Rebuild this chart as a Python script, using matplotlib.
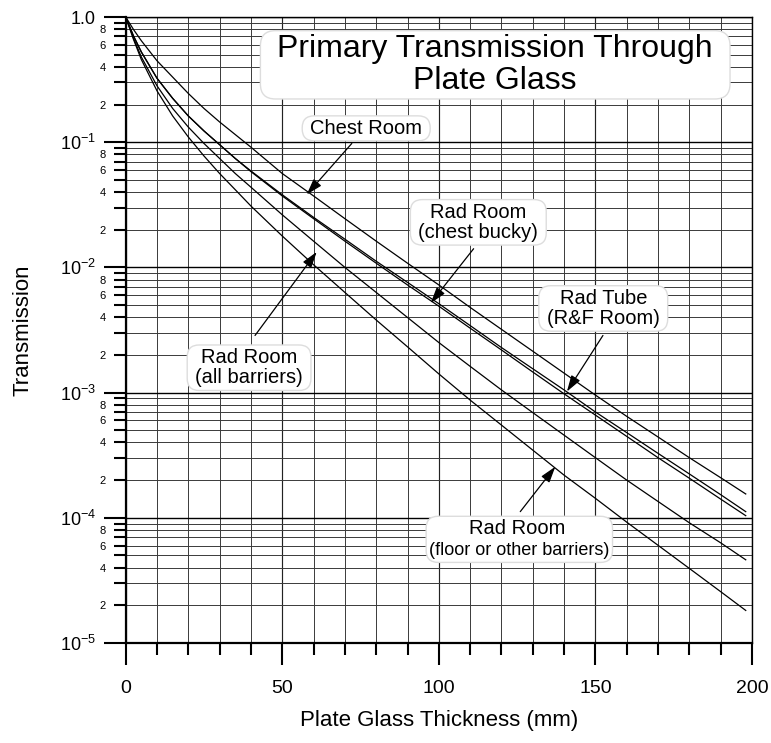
import numpy as np
import matplotlib
matplotlib.use('Agg')
import matplotlib.pyplot as plt
from matplotlib import ticker
from matplotlib.patches import FancyBboxPatch
from matplotlib.transforms import Bbox, IdentityTransform

plt.rcParams['font.family'] = ['Liberation Sans', 'DejaVu Sans']
plt.rcParams['mathtext.fontset'] = 'custom'
plt.rcParams['mathtext.rm'] = 'Liberation Sans'
plt.rcParams['mathtext.it'] = 'Liberation Sans:italic'

## thickness of plate glass (mm) at which the curves were read
thickness = [0, 2.5, 5, 10, 15, 20, 25, 30, 35, 40, 50, 60, 70, 80, 90, 100,
             110, 120, 130, 140, 150, 160, 170, 180, 190, 198]

## transmission
chest_room = [1.0, 0.794, 0.646, 0.447, 0.331, 0.245, 0.186, 0.145, 0.115, 0.0912,
              0.0562, 0.0372, 0.0245, 0.0162, 0.0108, 7.24e-3, 4.79e-3, 3.20e-3,
              2.14e-3, 1.43e-3, 9.55e-4, 6.46e-4, 4.42e-4, 3.02e-4, 2.09e-4, 1.55e-4]
rad_tube = [1.0, 0.700, 0.525, 0.324, 0.224, 0.162, 0.123, 0.0955, 0.0741, 0.0589,
            0.0380, 0.0251, 0.0168, 0.0112, 7.59e-3, 5.13e-3, 3.43e-3, 2.29e-3,
            1.55e-3, 1.05e-3, 7.00e-4, 4.79e-4, 3.27e-4, 2.24e-4, 1.53e-4, 1.12e-4]
chest_bucky = [1.0, 0.708, 0.525, 0.324, 0.224, 0.162, 0.123, 0.0955, 0.0741, 0.0582,
               0.0372, 0.0245, 0.0162, 0.0108, 7.24e-3, 4.90e-3, 3.27e-3, 2.19e-3,
               1.46e-3, 9.77e-4, 6.61e-4, 4.47e-4, 3.02e-4, 2.07e-4, 1.41e-4, 1.04e-4]
all_barriers = [1.0, 0.676, 0.479, 0.282, 0.186, 0.132, 0.0977, 0.0741, 0.0562, 0.0437,
                0.0263, 0.0162, 0.0100, 6.31e-3, 3.98e-3, 2.51e-3, 1.62e-3, 1.05e-3,
                6.92e-4, 4.57e-4, 3.02e-4, 2.00e-4, 1.35e-4, 9.12e-5, 6.31e-5, 4.62e-5]
floor_other = [1.0, 0.661, 0.457, 0.257, 0.162, 0.110, 0.0776, 0.0562, 0.0417, 0.0309,
               0.0178, 0.0105, 6.31e-3, 3.80e-3, 2.32e-3, 1.41e-3, 8.71e-4, 5.50e-4,
               3.47e-4, 2.19e-4, 1.43e-4, 9.23e-5, 6.03e-5, 3.94e-5, 2.57e-5, 1.82e-5]

curves = [chest_room, rad_tube, chest_bucky, all_barriers, floor_other]

## labels: text, text centre, arrow start, arrow tip (data coords)
labels = [
    ("Chest Room", (76.8, 0.129), (72.2, 0.0977), (57.8, 0.0382)),
    ("Rad Room\n(chest bucky)", (112.6, 0.0229), (111.1, 0.0141), (97.4, 5.18e-3)),
    ("Rad Tube\n(R&F Room)", (152.5, 4.70e-3), (152.4, 2.86e-3), (140.9, 1.02e-3)),
    ("Rad Room\n(all barriers)", (39.4, 1.58e-3), (41.3, 2.86e-3), (61.0, 0.0133)),
]
floor_line1 = ("Rad Room", (125.0, 8.17e-5))
floor_line2 = ("(floor or other barriers)", (125.7, 5.44e-5))
floor_arrow = ((126.0, 1.12e-4), (137.2, 2.56e-4))

title = "Primary Transmission Through\nPlate Glass"
title_pos = (118.0, 0.415)


fig = plt.figure(figsize=(7.71, 7.43), dpi=100)
ax = fig.add_axes([125.7/771, 1-643/743, 626.3/771, 626/743])
ax.set_yscale('log')
ax.set_xlim(0, 200)
ax.set_ylim(1e-5, 1.0)

for c in curves:
    ax.plot(thickness, c, color='k', lw=0.9, zorder=2)

# ticks and grid
ax.xaxis.set_major_locator(ticker.MultipleLocator(50))
ax.xaxis.set_minor_locator(ticker.MultipleLocator(10))
ax.yaxis.set_major_locator(ticker.LogLocator(base=10, numticks=10))
ax.yaxis.set_minor_locator(ticker.LogLocator(base=10, subs=np.arange(2, 10), numticks=10))

def major_fmt(v, pos):
    if v >= 0.999:
        return '1.0'
    return r'$10^{%d}$' % int(round(np.log10(v)))

def minor_fmt(v, pos):
    d = int(round(v / 10**np.floor(np.log10(v) + 1e-9)))
    return str(d) if d in (2, 4, 6, 8) else ''

ax.yaxis.set_major_formatter(ticker.FuncFormatter(major_fmt))
ax.yaxis.set_minor_formatter(ticker.FuncFormatter(minor_fmt))

ax.grid(which='minor', color='#3a3a3a', lw=0.7, zorder=0)
ax.xaxis.grid(which='major', color='#222222', lw=0.85, zorder=0)
ax.yaxis.grid(which='major', color='k', lw=1.0, zorder=0)
ax.set_axisbelow(True)

ax.tick_params(which='both', direction='out', width=1.5, color='k', top=False, right=False)
ax.tick_params(which='major', length=15.5, pad=6)
ax.tick_params(which='minor', length=8.5, pad=6)
ax.tick_params(axis='x', which='major', labelsize=14, pad=11)
ax.tick_params(axis='y', which='major', labelsize=13)
ax.tick_params(axis='y', which='minor', labelsize=8)

for s in ['left', 'bottom']:
    ax.spines[s].set_linewidth(1.6)
for s in ['top', 'right']:
    ax.spines[s].set_linewidth(1.0)

ax.set_xlabel("Plate Glass Thickness (mm)", fontsize=16)
ax.set_ylabel("Transmission", fontsize=16)
ax.xaxis.set_label_coords(0.5, -0.107)
ax.yaxis.set_label_coords(-0.148, 0.5)

# texts
texts = []
t = ax.text(*title_pos, title, ha='center', va='center', fontsize=23,
            linespacing=1.1, zorder=5)
texts.append(([t], 17, 3, 15))
for txt, pos, start, tip in labels:
    t = ax.text(*pos, txt, ha='center', va='center', fontsize=14.5,
                linespacing=1.1, zorder=5)
    texts.append(([t], 8, 3, 12))
    ax.annotate('', xy=tip, xytext=start, zorder=4,
                arrowprops=dict(arrowstyle='-|>,head_length=0.7,head_width=0.22',
                                color='k', lw=0.9, shrinkA=0, shrinkB=0,
                                mutation_scale=14))
t1 = ax.text(*floor_line1[1], floor_line1[0], ha='center', va='center', fontsize=14.5, zorder=5)
t2 = ax.text(*floor_line2[1], floor_line2[0], ha='center', va='center', fontsize=13, zorder=5)
texts.append(([t1, t2], 3, 3, 12))
ax.annotate('', xy=floor_arrow[1], xytext=floor_arrow[0], zorder=4,
            arrowprops=dict(arrowstyle='-|>,head_length=0.7,head_width=0.22',
                            color='k', lw=0.9, shrinkA=0, shrinkB=0,
                            mutation_scale=14))

# rounded white boxes behind the labels
fig.canvas.draw()
renderer = fig.canvas.get_renderer()
for group, padx, pady, r in texts:
    bb = Bbox.union([g.get_window_extent(renderer) for g in group])
    box = FancyBboxPatch((bb.x0 - padx, bb.y0 - pady), bb.width + 2*padx, bb.height + 2*pady,
                         boxstyle="round,pad=0,rounding_size=%g" % r,
                         transform=IdentityTransform(), facecolor='white',
                         edgecolor='#dddddd', lw=1.0, zorder=3)
    ax.add_patch(box)

fig.savefig('out.png', dpi=100)
